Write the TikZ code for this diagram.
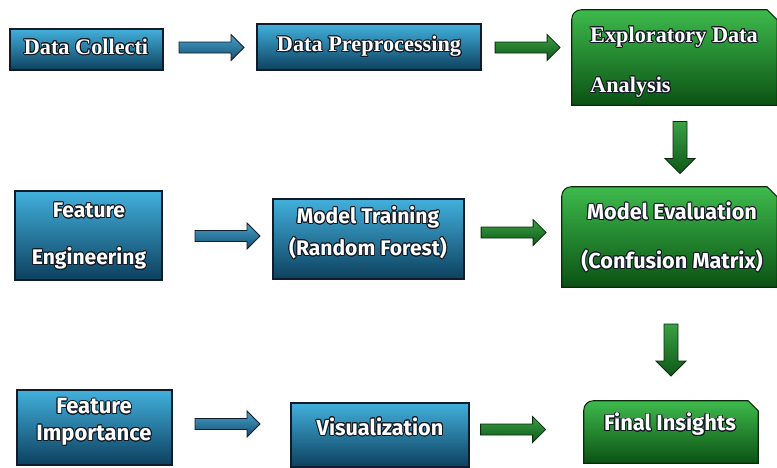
\documentclass[tikz,border=0pt]{standalone}
\usepackage{fontspec}
\setmainfont{Liberation Serif}
\newfontfamily\labelsans{Fira Sans}
\usepackage[copies]{contour}
\usetikzlibrary{calc}

\definecolor{bluetop}{RGB}{66,176,220}
\definecolor{bluebot}{RGB}{13,64,94}
\definecolor{blueline}{RGB}{16,28,42}
\definecolor{greentop}{RGB}{62,186,76}
\definecolor{greenbot}{RGB}{11,82,20}
\definecolor{greenline}{RGB}{10,42,12}
\definecolor{arrowtop}{RGB}{72,162,204}
\definecolor{arrowbot}{RGB}{18,78,112}
\definecolor{garrowtop}{RGB}{58,160,68}
\definecolor{garrowbot}{RGB}{14,88,24}
\definecolor{textline}{RGB}{18,26,36}

\newdimen\pxu \pxu=0.03cm
\contourlength{0.8pt}
\newcommand\outl[1]{\contour{textline}{#1}}

\tikzset{
  bluebox/.style={draw=blueline,line width=0.9pt,top color=bluetop,bottom color=bluebot,inner sep=0pt},
  greenbox/.style={inner sep=0pt},
  greenshape/.style={draw=greenline,line width=0.9pt,top color=greentop,bottom color=greenbot},
  bluearrow/.style={draw=blueline,line width=0.7pt,top color=arrowtop,bottom color=arrowbot},
  greenarrow/.style={draw=greenline,line width=0.7pt,top color=garrowtop,bottom color=garrowbot},
  seriftext/.style={text=white,align=center,inner sep=0pt,font=\fontsize{19}{22}\selectfont\bfseries},
  sanstext/.style={text=white,align=center,inner sep=0pt,font=\labelsans\fontsize{#1}{#1}\selectfont\bfseries},
  sanstext/.default=18,
}

% green box with one round and one snipped corner
\newcommand\snip[1]{%
  \shade[greenshape] (#1.south west) [rounded corners=8pt] -- (#1.north west)
    [sharp corners] -- ($(#1.north east)+(-10,0)$) -- ($(#1.north east)+(0,10)$)
    -- (#1.south east) -- cycle;}

% block arrows: style, from, to, cross position, shift along
\newcommand\hblock[5]{%
  \coordinate (m) at ($($(#2.east)!0.5!(#3.west)$)+(#5,0)$);
  \coordinate (m) at (m |- 0,#4);
  \shade[#1] ($(m)+(-32.5,-5.5)$) -- ($(m)+(19.5,-5.5)$) -- ($(m)+(19.5,-13)$)
    -- ($(m)+(32.5,0)$) -- ($(m)+(19.5,13)$) -- ($(m)+(19.5,5.5)$)
    -- ($(m)+(-32.5,5.5)$) -- cycle;}
\newcommand\vblock[5]{%
  \coordinate (m) at ($($(#2.south)!0.5!(#3.north)$)+(0,#5)$);
  \coordinate (m) at (m -| #4,0);
  \shade[#1] ($(m)+(-7,-26)$) -- ($(m)+(-7,11)$) -- ($(m)+(-15,11)$)
    -- ($(m)+(0,26)$) -- ($(m)+(15,11)$) -- ($(m)+(7,11)$)
    -- ($(m)+(7,-26)$) -- cycle;}

\begin{document}
\begin{tikzpicture}[x=0.03cm,y=-0.03cm]
  \useasboundingbox (0,0) rectangle (777,467);

  % boxes
  \node[bluebox,minimum width=153\pxu,minimum height=41\pxu] (collect) at (86.5,49.5) {};
  \node[bluebox,minimum width=224\pxu,minimum height=46\pxu] (prep) at (369,47) {};
  \node[greenbox,minimum width=205\pxu,minimum height=95\pxu] (eda) at (674.5,57.5) {};
  \node[bluebox,minimum width=147\pxu,minimum height=89\pxu] (feat) at (88.5,235.5) {};
  \node[bluebox,minimum width=191\pxu,minimum height=80\pxu] (train) at (368.5,239) {};
  \node[greenbox,minimum width=215\pxu,minimum height=100\pxu] (eval) at (669.5,237) {};
  \node[bluebox,minimum width=155\pxu,minimum height=75\pxu] (imp) at (94.5,427.5) {};
  \node[bluebox,minimum width=178\pxu,minimum height=64\pxu] (vis) at (380,435) {};
  \node[greenbox,minimum width=174\pxu,minimum height=62\pxu] (ins) at (671,432) {};
  \snip{eda}
  \snip{eval}
  \snip{ins}

  % arrows
  \hblock{bluearrow}{collect}{prep}{47.5}{1.5}
  \hblock{greenarrow}{prep}{eda}{47.5}{1}
  \vblock{greenarrow}{eda}{eval}{680}{1.5}
  \hblock{bluearrow}{feat}{train}{236}{10}
  \hblock{greenarrow}{train}{eval}{232.5}{0.5}
  \vblock{greenarrow}{eval}{ins}{671}{6}
  \hblock{bluearrow}{imp}{vis}{424}{-4}
  \hblock{greenarrow}{vis}{ins}{429.5}{-13.5}

  % labels
  \node[seriftext] (collect-l) at (86,47) {\outl{Data Collecti}};
  \node[seriftext] (prep-l) at (369,47) {\outl{Data Preprocessing}};
  \node[seriftext,anchor=west,align=left] (eda-l) at (590,62.5)
    {\outl{Exploratory Data}\\[21pt]\outl{Analysis}};
  \node[sanstext] (feat-l) at (89,236.5) {\outl{Feature}\\[22pt]\outl{Engineering}};
  \node[sanstext] (train-l) at (368,233) {\outl{Model Training}\\[6pt]\outl{(Random Forest)}};
  \node[sanstext=18.5] (eval-l) at (672,237.5) {\outl{Model Evaluation}\\[23pt]\outl{(Confusion Matrix)}};
  \node[sanstext=18.8] (imp-l) at (94,422.5) {\outl{Feature}\\[4pt]\outl{Importance}};
  \node[sanstext=18.5] (vis-l) at (380,427) {\outl{Visualization}};
  \node[sanstext=18.7] (ins-l) at (670,425) {\outl{Final Insights}};
\end{tikzpicture}
\end{document}
